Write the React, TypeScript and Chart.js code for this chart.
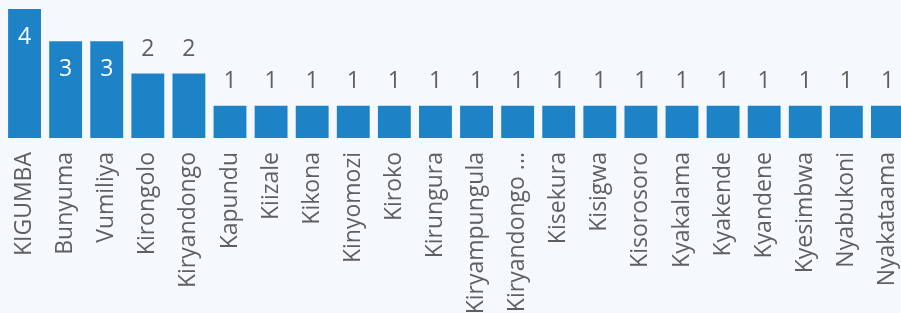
import React, { useEffect, useRef } from "react";
import { Chart, registerables } from "chart.js";

Chart.register(...registerables);

const categories: string[] = [
  "KIGUMBA", "Bunyuma", "Vumiliya", "Kirongolo", "Kiryandongo", "Kapundu",
  "Kiizale", "Kikona", "Kinyomozi", "Kiroko", "Kirungura", "Kiryampungula",
  "Kiryandongo ...", "Kisekura", "Kisigwa", "Kisorosoro", "Kyakalama",
  "Kyakende", "Kyandene", "Kyesimbwa", "Nyabukoni", "Nyakataama",
];

const values: number[] = [4, 3, 3, 2, 2, 1, 1, 1, 1, 1, 1, 1, 1, 1, 1, 1, 1, 1, 1, 1, 1, 1];

const BAR_COLOR = "#1E82C6";
const BG_COLOR = "#F5F9FD";
const TEXT_COLOR = "#5F5F5F";
const FONT = "'Open Sans', 'Noto Sans', sans-serif";

const valueLabels = {
  id: "valueLabels",
  afterDatasetsDraw(chart: any) {
    const ctx = chart.ctx;
    const meta = chart.getDatasetMeta(0);
    const area = chart.chartArea;
    ctx.save();
    ctx.font = `23px ${FONT}`;
    ctx.textAlign = "center";
    ctx.textBaseline = "alphabetic";
    meta.data.forEach((bar: any, i: number) => {
      const v = values[i];
      const top = bar.y;
      const inside = top - area.top < 40;
      if (inside) {
        ctx.fillStyle = "#FFFFFF";
        ctx.fillText(String(v), bar.x, top + 35);
      } else {
        ctx.fillStyle = TEXT_COLOR;
        ctx.fillText(String(v), bar.x, top - 18);
      }
    });
    ctx.restore();
  },
};

export default function App() {
  const ref = useRef<HTMLCanvasElement | null>(null);
  useEffect(() => {
    document.body.style.overflow = "hidden";
    document.body.style.background = BG_COLOR;
    const chart = new Chart(ref.current!, {
      type: "bar",
      data: {
        labels: categories,
        datasets: [
          {
            data: values,
            backgroundColor: BAR_COLOR,
            barPercentage: 0.8,
            categoryPercentage: 1,
          },
        ],
      },
      options: {
        animation: false,
        responsive: false,
        layout: { padding: { left: 4, right: 4, top: 9, bottom: 0 } },
        plugins: { legend: { display: false }, tooltip: { enabled: false } },
        scales: {
          x: {
            grid: { display: false, drawTicks: false },
            border: { display: false },
            ticks: {
              color: TEXT_COLOR,
              font: { family: FONT, size: 23 },
              minRotation: 90,
              maxRotation: 90,
              autoSkip: false,
              padding: 14,
            },
            afterFit: (scale: any) => {
              scale.height = 175;
              scale.paddingLeft = 0;
              scale.paddingRight = 0;
            },
          },
          y: { display: false, min: 0, max: 4 },
        },
      },
      plugins: [valueLabels],
    });
    return () => chart.destroy();
  }, []);
  return (
    <div style={{ position: "fixed", left: 0, top: 0, width: 912, height: 313, background: BG_COLOR }}>
      <canvas ref={ref} width={912} height={313} style={{ display: "block" }} />
    </div>
  );
}
